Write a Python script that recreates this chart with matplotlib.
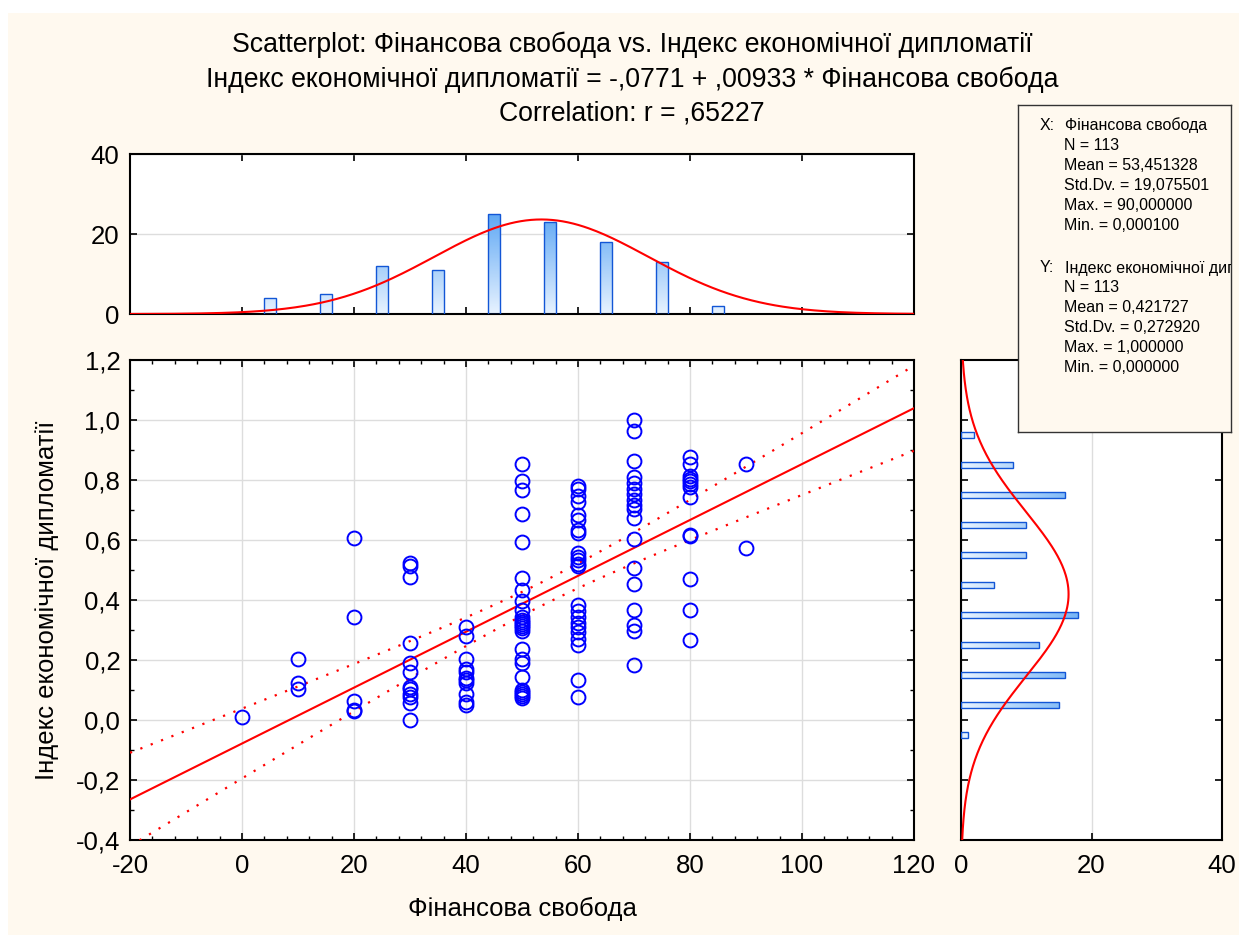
import numpy as np
import matplotlib
matplotlib.use("Agg")
import matplotlib.pyplot as plt
from matplotlib.patches import Rectangle
from matplotlib.colors import LinearSegmentedColormap
from matplotlib.ticker import MultipleLocator, FuncFormatter

plt.rcParams['font.family'] = ['Liberation Sans', 'DejaVu Sans']
plt.rcParams['axes.unicode_minus'] = False

# values, grouped by "Фінансова свобода" level
x_levels = [0.0001, 10, 20, 30, 40, 50, 60, 70, 80, 90]
y_x0 = [0.010]
y_x10 = [0.205, 0.122, 0.102]
y_x20 = [0.608, 0.345, 0.062, 0.032, 0.030]
y_x30 = [0.522, 0.512, 0.478, 0.258, 0.190, 0.160, 0.110, 0.102, 0.088, 0.078, 0.058, 0.000]
y_x40 = [0.310, 0.280, 0.205, 0.170, 0.160, 0.140, 0.135, 0.125, 0.088, 0.060, 0.050]
y_x50 = [0.853, 0.798, 0.768, 0.688, 0.594, 0.473, 0.435, 0.396, 0.366, 0.345, 0.335, 0.328,
         0.320, 0.314, 0.308, 0.298, 0.236, 0.203, 0.190, 0.145, 0.101, 0.092, 0.086, 0.080, 0.075]
y_x60 = [0.780, 0.770, 0.748, 0.727, 0.685, 0.668, 0.632, 0.622, 0.557, 0.545, 0.533, 0.520,
         0.512, 0.385, 0.362, 0.345, 0.325, 0.310, 0.292, 0.271, 0.250, 0.135, 0.078]
y_x70 = [1.000, 0.962, 0.865, 0.810, 0.790, 0.770, 0.752, 0.733, 0.717, 0.705, 0.672, 0.603,
         0.507, 0.455, 0.368, 0.318, 0.298, 0.183]
y_x80 = [0.878, 0.855, 0.815, 0.805, 0.797, 0.788, 0.778, 0.745, 0.618, 0.612, 0.470, 0.367, 0.267]
y_x90 = [0.853, 0.573]

x_label = "Фінансова свобода"
y_label = "Індекс економічної дипломатії"
title_lines = [
    "Scatterplot: Фінансова свобода vs. Індекс економічної дипломатії",
    "Індекс економічної дипломатії = -,0771 + ,00933 * Фінансова свобода",
    "Correlation: r = ,65227",
]
x_stats = ["N = 113", "Mean = 53,451328", "Std.Dv. = 19,075501", "Max. = 90,000000", "Min. = 0,000100"]
y_stats = ["N = 113", "Mean = 0,421727", "Std.Dv. = 0,272920", "Max. = 1,000000", "Min. = 0,000000"]

groups = [y_x0, y_x10, y_x20, y_x30, y_x40, y_x50, y_x60, y_x70, y_x80, y_x90]
x = np.concatenate([[lv] * len(g) for lv, g in zip(x_levels, groups)])
y = np.concatenate(groups)
n = len(x)

W, H = 1239, 935
cream = '#fff9ef'
fig = plt.figure(figsize=(W / 100, H / 100), dpi=100)
fig.patch.set_facecolor('white')
fig.patches.append(Rectangle((8 / W, 0), 1 - 8 / W, 1 - 13 / H, transform=fig.transFigure,
                             facecolor=cream, edgecolor='none', zorder=-10))


def px_axes(l, t, r, b):
    return fig.add_axes([l / W, 1 - b / H, (r - l) / W, (b - t) / H])


def comma(v, pos=None):
    s = "%.1f" % v
    if s == "-0.0":
        s = "0.0"
    return s.replace('.', ',')


ax = px_axes(130, 360, 914, 840)
ax_top = px_axes(130, 154, 914, 314)
ax_right = px_axes(961, 360, 1222, 840)
ax_box = px_axes(1018, 105, 1231, 432)

for a in (ax, ax_top, ax_right):
    a.set_facecolor('white')
    for s in a.spines.values():
        s.set_linewidth(1.5)
        s.set_color('black')
    a.tick_params(which='both', direction='in', top=True, right=True, labelsize=18.5, color='black')
    a.tick_params(which='major', length=5, width=1.2)
    a.tick_params(which='minor', length=3, width=1)

# main scatter
xs = np.linspace(-20, 120, 300)
slope, intercept = np.polyfit(x, y, 1)
fit = intercept + slope * xs
resid = y - (intercept + slope * x)
s_err = np.sqrt(np.sum(resid ** 2) / (n - 2))
t_val = 1.9816
band = t_val * s_err * np.sqrt(1 / n + (xs - x.mean()) ** 2 / np.sum((x - x.mean()) ** 2))

ax.set_xlim(-20, 120)
ax.set_ylim(-0.4, 1.2)
ax.xaxis.set_major_locator(MultipleLocator(20))
ax.xaxis.set_minor_locator(MultipleLocator(4))
ax.yaxis.set_major_locator(MultipleLocator(0.2))
ax.yaxis.set_minor_locator(MultipleLocator(0.1))
ax.yaxis.set_major_formatter(FuncFormatter(comma))
ax.tick_params(axis='x', pad=10)
ax.tick_params(axis='y', pad=7)
ax.grid(True, which='major', color='#dddddd', lw=1)
ax.set_axisbelow(True)
ax.plot(xs, fit, color='red', lw=1.5, zorder=3)
ax.plot(xs, fit + band, color='red', lw=1.6, ls=(0, (1, 4)), zorder=3)
ax.plot(xs, fit - band, color='red', lw=1.6, ls=(0, (1, 4)), zorder=3)
ax.plot(x, y, 'o', mfc='none', mec='blue', ms=10, mew=1.4, ls='none', zorder=4)
ax.set_xlabel(x_label, fontsize=18.5, labelpad=14)
ax.set_ylabel(y_label, fontsize=18.5, labelpad=12)

bar_cmap = LinearSegmentedColormap.from_list('bars', ['#e8f3ff', '#4f9ff3'])
grad = np.linspace(0, 1, 256)


def gradient_bar(a, bar, horizontal=False, vmax=28.0):
    x0, y0 = bar.get_x(), bar.get_y()
    w, h = bar.get_width(), bar.get_height()
    if horizontal:
        img = grad.reshape(1, -1)
        ext = [0, vmax, y0, y0 + h]
    else:
        img = grad.reshape(-1, 1)
        ext = [x0, x0 + w, 0, vmax]
    im = a.imshow(img, extent=ext, origin='lower', cmap=bar_cmap, aspect='auto', zorder=2)
    im.set_clip_path(bar)


# top histogram (X)
x_edges = np.arange(0, 100, 10) + 1e-9
x_counts, _ = np.histogram(x, bins=x_edges)
x_centers = np.arange(5, 90, 10)
bars = ax_top.bar(x_centers, x_counts, width=2.1, facecolor='none', edgecolor='#1256d6', lw=1, zorder=3)
for b in bars:
    gradient_bar(ax_top, b)
xm, xsd = x.mean(), x.std(ddof=1)
ax_top.plot(xs, n * 10 / (xsd * np.sqrt(2 * np.pi)) * np.exp(-0.5 * ((xs - xm) / xsd) ** 2),
            color='red', lw=1.5, zorder=4)
ax_top.set_xlim(-20, 120)
ax_top.set_ylim(0, 40)
ax_top.xaxis.set_major_locator(MultipleLocator(20))
ax_top.yaxis.set_major_locator(MultipleLocator(20))
ax_top.tick_params(labelbottom=False, pad=8)
ax_top.grid(True, axis='y', color='#dddddd', lw=1)
ax_top.set_axisbelow(True)

# right histogram (Y)
y_edges = np.arange(-0.1, 1.05, 0.1) + 1e-9
y_counts, _ = np.histogram(y, bins=y_edges)
y_centers = np.arange(-0.05, 1.0, 0.1)
hbars = ax_right.barh(y_centers, y_counts, height=0.022, facecolor='none', edgecolor='#1256d6', lw=1, zorder=3)
for b in hbars:
    gradient_bar(ax_right, b, horizontal=True, vmax=24.0)
ym, ysd = y.mean(), y.std(ddof=1)
yy = np.linspace(-0.4, 1.2, 300)
ax_right.plot(n * 0.1 / (ysd * np.sqrt(2 * np.pi)) * np.exp(-0.5 * ((yy - ym) / ysd) ** 2), yy,
              color='red', lw=1.5, zorder=4)
ax_right.set_xlim(0, 40)
ax_right.set_ylim(-0.4, 1.2)
ax_right.xaxis.set_major_locator(MultipleLocator(20))
ax_right.yaxis.set_major_locator(MultipleLocator(0.2))
ax_right.tick_params(labelleft=False, pad=10)
ax_right.grid(True, axis='x', color='#dddddd', lw=1)
ax_right.set_axisbelow(True)

# statistics box (the Y name is cut by the box edge, as in the original)
ax_box.set_facecolor(cream)
ax_box.set_xlim(0, 213)
ax_box.set_ylim(327, 0)
ax_box.set_xticks([])
ax_box.set_yticks([])
for s in ax_box.spines.values():
    s.set_linewidth(1)
    s.set_color('#333333')
ax_box.text(22, 20, "X:", fontsize=11.5, va='center', clip_on=True)
ax_box.text(47, 20, x_label, fontsize=11.5, va='center', clip_on=True)
for i, line in enumerate(x_stats):
    ax_box.text(46, 40 + 20 * i, line, fontsize=11.5, va='center', clip_on=True)
ax_box.text(22, 163, "Y:", fontsize=11.5, va='center', clip_on=True)
ax_box.text(47, 163, y_label, fontsize=11.5, va='center', clip_on=True)
for i, line in enumerate(y_stats):
    ax_box.text(46, 183 + 20 * i, line, fontsize=11.5, va='center', clip_on=True)

for i, line in enumerate(title_lines):
    fig.text(632 / W, 1 - (45 + 34.5 * i) / H, line, fontsize=19.2, ha='center', va='center')

fig.savefig('out.png', dpi=100, facecolor=fig.get_facecolor())
